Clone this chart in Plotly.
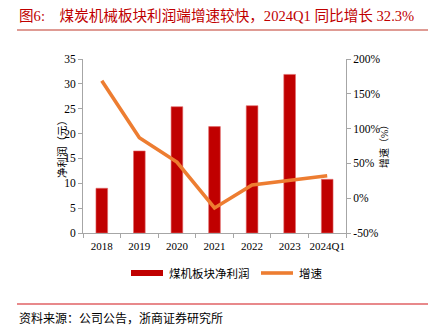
import plotly.graph_objects as go

categories = ["2018", "2019", "2020", "2021", "2022", "2023", "2024Q1"]
net_profit = [9.0, 16.5, 25.4, 21.4, 25.6, 31.9, 10.8]
growth_pct = [168.7, 87.0, 52.0, -14.0, 19.0, 26.0, 32.3]

left_ticks = [0, 5, 10, 15, 20, 25, 30, 35]
right_ticks = [-50, 0, 50, 100, 150, 200]
right_tick_text = [f"{v}%" for v in right_ticks]

bar_name = "煤机板块净利润"
line_name = "增速"
left_title = "净利润（元）"
right_title = "增速（%）"
title_text = "图6:　煤炭机械板块利润端增速较快，2024Q1 同比增长 32.3%"
source_text = "资料来源：公司公告，浙商证券研究所"

RED = "#C00000"
ORANGE = "#ED7D31"
AXIS = "#A6A6A6"
FONT = "Liberation Serif, Times New Roman, Noto Sans CJK SC, serif"
W, H = 430, 333

fig = go.Figure()
fig.add_trace(go.Bar(
    x=categories, y=net_profit, name=bar_name, width=0.31,
    marker=dict(color=RED, line=dict(color="#E06666", width=0.6)),
    showlegend=False,
))
fig.add_trace(go.Scatter(
    x=categories, y=growth_pct, name=line_name, yaxis="y2", mode="lines",
    line=dict(color=ORANGE, width=3.6), showlegend=False,
))

L, R, T, B = 83, 84, 59, 100
fig.update_layout(
    width=W, height=H,
    margin=dict(l=L, r=R, t=T, b=B, pad=0),
    paper_bgcolor="white", plot_bgcolor="white",
    font=dict(family=FONT, size=11, color="#000000"),
    xaxis=dict(
        type="category", showline=True, linecolor=AXIS, linewidth=1,
        ticks="outside", tickson="boundaries", ticklen=4, tickcolor=AXIS,
        showgrid=False, tickfont=dict(size=11), tickangle=0,
        ticklabelstandoff=3,
    ),
    yaxis=dict(
        range=[0, 35], tickvals=left_ticks, showline=True, linecolor=AXIS,
        ticks="outside", ticklen=4, tickcolor=AXIS, showgrid=False,
        zeroline=False, tickfont=dict(size=11.5),
    ),
    yaxis2=dict(
        range=[-50, 200], tickvals=right_ticks, ticktext=right_tick_text,
        overlaying="y", side="right", showline=True, linecolor=AXIS,
        ticks="outside", ticklen=4, tickcolor=AXIS, showgrid=False,
        zeroline=False, tickfont=dict(size=11.5),
    ),
    bargap=0.6,
)


def px(xp):
    return (xp - L) / (W - L - R)


def py(yp):
    return (H - B - yp) / (H - T - B)


shapes = [
    # rule under the heading
    dict(type="line", xref="paper", yref="paper",
         x0=px(17), x1=px(428), y0=py(30), y1=py(30),
         line=dict(color="#C0392B", width=1.2)),
    # rule above the source note
    dict(type="line", xref="paper", yref="paper",
         x0=px(17), x1=px(428), y0=py(304), y1=py(304),
         line=dict(color="#E8898B", width=2)),
    # legend swatches
    dict(type="rect", xref="paper", yref="paper",
         x0=px(131), x1=px(163), y0=py(276), y1=py(270),
         fillcolor=RED, line=dict(width=0)),
    dict(type="line", xref="paper", yref="paper",
         x0=px(261), x1=px(293), y0=py(273), y1=py(273),
         line=dict(color=ORANGE, width=3.6)),
]
fig.update_layout(shapes=shapes)


def label(text, x, y, size, color="#000000", angle=0, anchor="left"):
    return dict(text=text, xref="paper", yref="paper", x=px(x), y=py(y),
                xanchor=anchor, yanchor="middle", showarrow=False,
                textangle=angle, font=dict(size=size, color=color, family=FONT))


annotations = [
    label(title_text, 17, 15, 14.6, RED),
    label(source_text, 17, 318, 12),
    label(bar_name, 167, 273, 11.5),
    label(line_name, 297, 273, 11.5),
    label(left_title, 54, 147, 10.5, angle=-90, anchor="left"),
    label(right_title, 376, 144, 10, angle=-90, anchor="left"),
]
fig.update_layout(annotations=annotations)

fig.write_html("out.html")
